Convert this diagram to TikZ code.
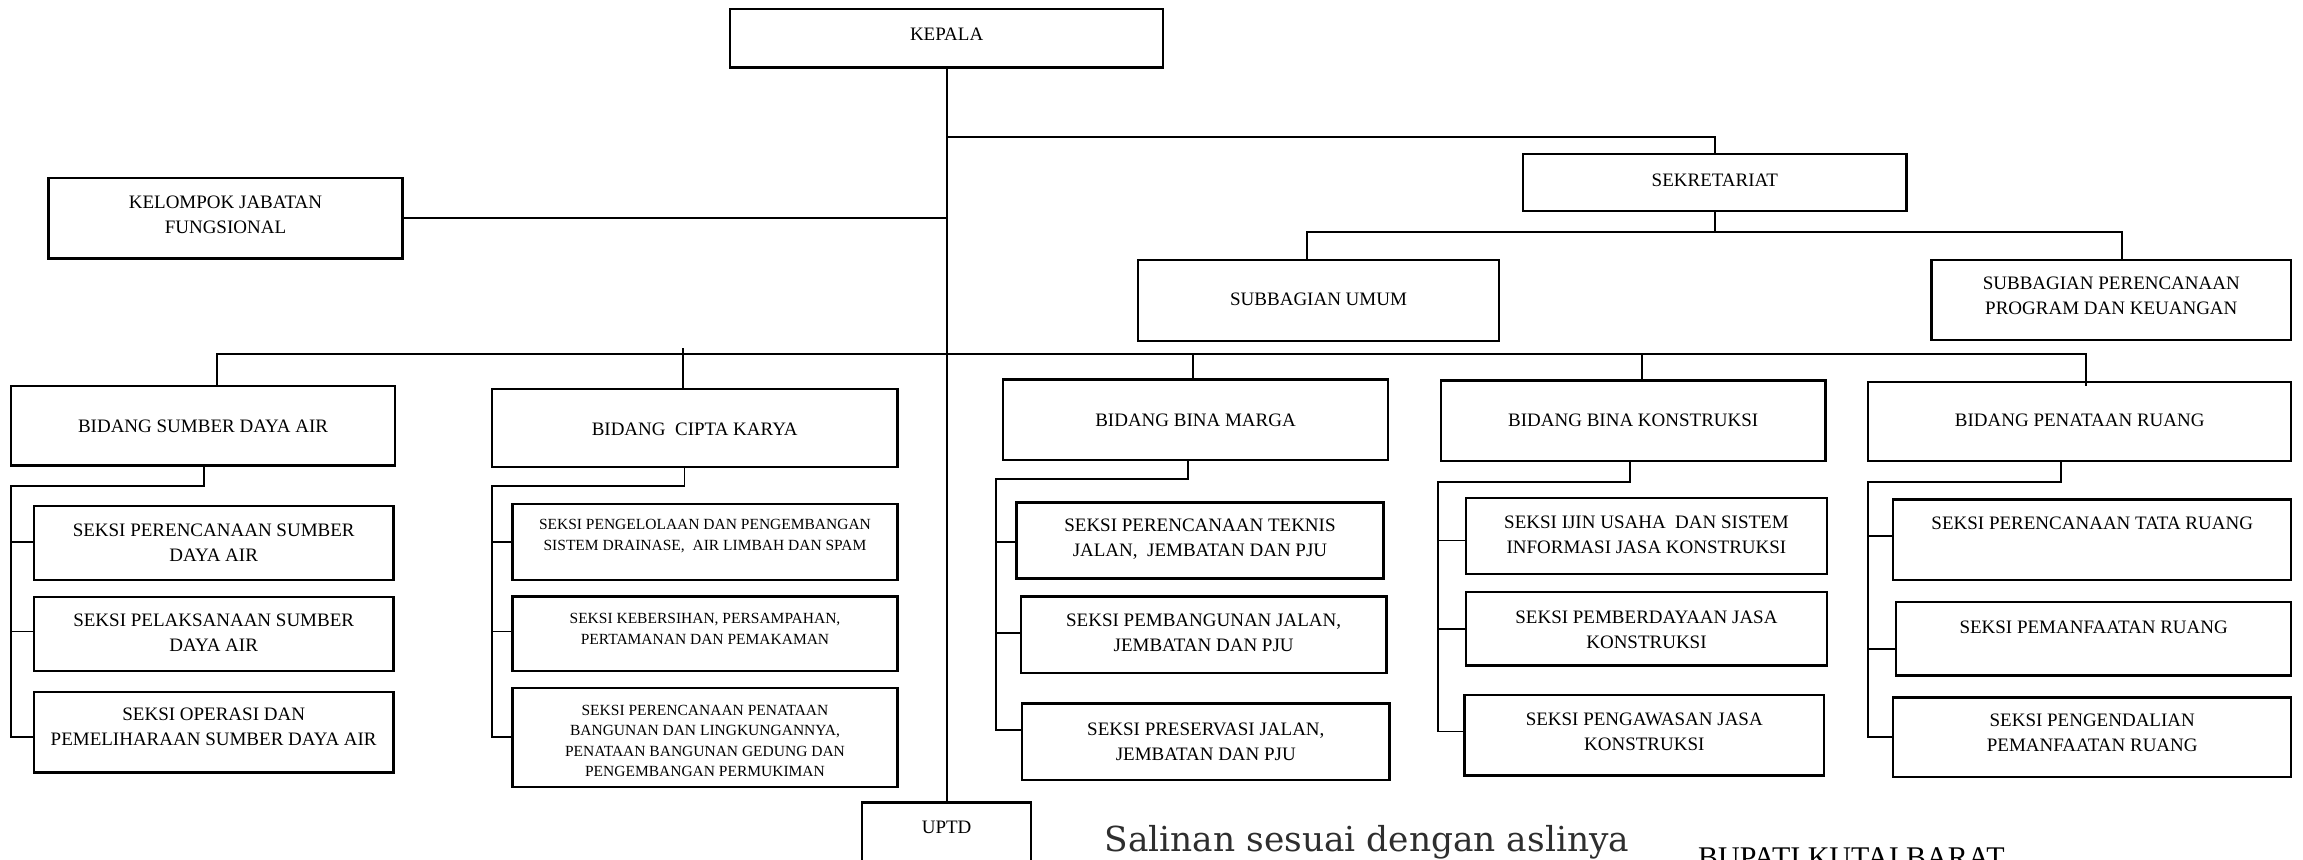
\documentclass[tikz,border=0pt]{standalone}
\usepackage{fontspec}
\newfontfamily\cam{Liberation Serif}
\newfontfamily\dvs{DejaVu Serif}
\newcommand\obox[5]{\node[box, anchor=north west, minimum width={(#4-#2)*1.4688pt}, minimum height={(#5-#3)*1.4688pt}] (#1) at (#2,#3) {};}
\begin{document}
\begin{tikzpicture}[x=1.4688pt,y=-1.4688pt,
  box/.style={draw, rectangle, line width=2.4pt, inner sep=0pt, outer sep=0pt},
  conn/.style={line width=1.8pt},
  lbl/.style={align=center, inner sep=0pt, font=\cam\fontsize{19}{25}\selectfont},
  lbls/.style={align=center, inner sep=0pt, font=\cam\fontsize{15.5}{20.5}\selectfont}]
\useasboundingbox (0,0) rectangle (1568,585);
\clip (0,0) rectangle (1568,585);
% boxes
\obox{kepala}{497}{6}{792}{46}
\obox{kel}{33}{121}{274}{176}
\obox{sek}{1037}{105}{1298}{143.5}
\obox{su}{775}{177}{1020.5}{232}
\obox{sp}{1315}{177}{1560}{231.5}
\obox{sda}{7.5}{263}{269}{317}
\obox{ck}{335}{265}{611}{318}
\obox{bm}{683}{258.5}{945}{313}
\obox{bk}{981}{259}{1243}{314}
\obox{pr}{1272}{260}{1560}{314}
\obox{sdaa}{23}{344.5}{268}{395}
\obox{sdab}{23}{406.5}{268}{457}
\obox{sdac}{23}{471}{268}{526}
\obox{cka}{349}{343}{611}{395}
\obox{ckb}{349}{406}{611}{457}
\obox{ckc}{349}{468.5}{611}{536}
\obox{bma}{692}{342}{942}{394}
\obox{bmb}{695}{406}{944}{458}
\obox{bmc}{696}{479}{946}{531}
\obox{bka}{998}{339}{1244}{391}
\obox{bkb}{998}{403}{1244}{453}
\obox{bkc}{997}{473}{1242}{528}
\obox{pra}{1289}{340}{1560}{395}
\obox{prb}{1291}{410}{1560}{460}
\obox{prc}{1289}{475}{1560}{529}
\obox{uptd}{587}{546.5}{702}{610}
% texts
\node[lbl] (t-kepala) at (644.5,23) {KEPALA};
\node[lbl] (t-kel) at (153.5,146) {KELOMPOK JABATAN\\FUNGSIONAL};
\node[lbl] (t-sek) at (1167.5,122.5) {SEKRETARIAT};
\node[lbl] (t-su) at (897.75,204) {SUBBAGIAN UMUM};
\node[lbl] (t-sp) at (1437.5,201.5) {SUBBAGIAN PERENCANAAN\\PROGRAM DAN KEUANGAN};
\node[lbl] (t-sda) at (138.25,290.5) {BIDANG SUMBER DAYA AIR};
\node[lbl] (t-ck) at (473,292.5) {BIDANG \ CIPTA KARYA};
\node[lbl] (t-bm) at (814,286) {BIDANG BINA MARGA};
\node[lbl] (t-bk) at (1112,286) {BIDANG BINA KONSTRUKSI};
\node[lbl] (t-pr) at (1416,286) {BIDANG PENATAAN RUANG};
\node[lbl] (t-sdaa) at (145.5,369.5) {SEKSI PERENCANAAN SUMBER\\DAYA AIR};
\node[lbl] (t-sdab) at (145.5,430.5) {SEKSI PELAKSANAAN SUMBER\\DAYA AIR};
\node[lbl] (t-sdac) at (145.5,495) {SEKSI OPERASI DAN\\PEMELIHARAAN SUMBER DAYA AIR};
\node[lbls] (t-cka) at (480,365) {SEKSI PENGELOLAAN DAN PENGEMBANGAN\\SISTEM DRAINASE, \ AIR LIMBAH DAN SPAM};
\node[lbls] (t-ckb) at (480,428) {SEKSI KEBERSIHAN, PERSAMPAHAN,\\PERTAMANAN DAN PEMAKAMAN};
\node[lbls] (t-ckc) at (480,504.5) {SEKSI PERENCANAAN PENATAAN\\BANGUNAN DAN LINGKUNGANNYA,\\PENATAAN BANGUNAN GEDUNG DAN\\PENGEMBANGAN PERMUKIMAN};
\node[lbl] (t-bma) at (817,367) {SEKSI PERENCANAAN TEKNIS\\JALAN, \ JEMBATAN DAN PJU};
\node[lbl] (t-bmb) at (819.5,430.5) {SEKSI PEMBANGUNAN JALAN,\\JEMBATAN DAN PJU};
\node[lbl] (t-bmc) at (821,505) {SEKSI PRESERVASI JALAN,\\JEMBATAN DAN PJU};
\node[lbl] (t-bka) at (1121,364) {SEKSI IJIN USAHA \ DAN SISTEM\\INFORMASI JASA KONSTRUKSI};
\node[lbl] (t-bkb) at (1121,428.5) {SEKSI PEMBERDAYAAN JASA\\KONSTRUKSI};
\node[lbl] (t-bkc) at (1119.5,498) {SEKSI PENGAWASAN JASA\\KONSTRUKSI};
\node[lbl] (t-pra) at (1424.5,356) {SEKSI PERENCANAAN TATA RUANG};
\node[lbl] (t-prb) at (1425.5,427) {SEKSI PEMANFAATAN RUANG};
\node[lbl] (t-prc) at (1424.5,499) {SEKSI PENGENDALIAN\\PEMANFAATAN RUANG};
\node[lbl] (t-uptd) at (644.5,563) {UPTD};
\node[anchor=base west, inner sep=0pt, text=black!82, font=\dvs\fontsize{34.4}{41}\selectfont] (salinan) at (752,580) {Salinan sesuai dengan aslinya};
\node[anchor=base west, inner sep=0pt, font=\cam\fontsize{30}{36}\selectfont] (bupati) at (1156,590.5) {BUPATI KUTAI BARAT};
% connectors
\draw[conn] (kepala.south) -- (uptd.north);
\coordinate (jsek) at (644.5,93.5);
\draw[conn] (jsek) -| (sek.north);
\draw[conn] (kel.east) -- (kel.east -| kepala.south);
\coordinate (jsub) at (1167.5,158);
\coordinate (dsu) at (890,177);
\coordinate (dsp) at (1445,177);
\draw[conn] (sek.south) -- (jsub);
\draw[conn] (dsu) |- (jsub) -| (dsp);
\coordinate (jbus) at (644.5,241);
\coordinate (dsda) at (148,263);
\coordinate (dck) at (465,265);
\coordinate (dcktop) at (465,237);
\coordinate (dbm) at (812,258.5);
\coordinate (dbk) at (1118,259);
\coordinate (dpr) at (1420,263);
\draw[conn] (dsda) |- (jbus) -| (dpr);
\draw[conn] (dcktop) -- (dck);
\draw[conn] (dbm |- jbus) -- (dbm);
\draw[conn] (dbk |- jbus) -- (dbk);
% SDA group
\coordinate (sdaS) at (139,317);
\coordinate (sdaH) at (7.5,331);
\draw[conn] (sdaS) |- (sdaH) -- (7.5,502) -- (sdac.west |- 0,502);
\draw[conn] (7.5,369) -- (sdaa.west |- 0,369);
\draw[conn] (7.5,430) -- (sdab.west |- 0,430);
% CK group
\coordinate (ckS) at (466,318);
\coordinate (ckH) at (335,331);
\draw[conn] (ckS) |- (ckH) -- (335,502) -- (ckc.west |- 0,502);
\draw[conn] (335,369) -- (cka.west |- 0,369);
\draw[conn] (335,430) -- (ckb.west |- 0,430);
% BM group
\coordinate (bmS) at (809,313);
\coordinate (bmH) at (678,326);
\draw[conn] (bmS) |- (bmH) -- (678,497) -- (bmc.west |- 0,497);
\draw[conn] (678,369) -- (bma.west |- 0,369);
\draw[conn] (678,431) -- (bmb.west |- 0,431);
% BK group
\coordinate (bkS) at (1110,314);
\coordinate (bkH) at (979,328);
\draw[conn] (bkS) |- (bkH) -- (979,498) -- (bkc.west |- 0,498);
\draw[conn] (979,368) -- (bka.west |- 0,368);
\draw[conn] (979,428) -- (bkb.west |- 0,428);
% PR group
\coordinate (prS) at (1403,314);
\coordinate (prH) at (1272,328);
\draw[conn] (prS) |- (prH) -- (1272,502) -- (prc.west |- 0,502);
\draw[conn] (1272,365) -- (pra.west |- 0,365);
\draw[conn] (1272,442) -- (prb.west |- 0,442);
\end{tikzpicture}
\end{document}
